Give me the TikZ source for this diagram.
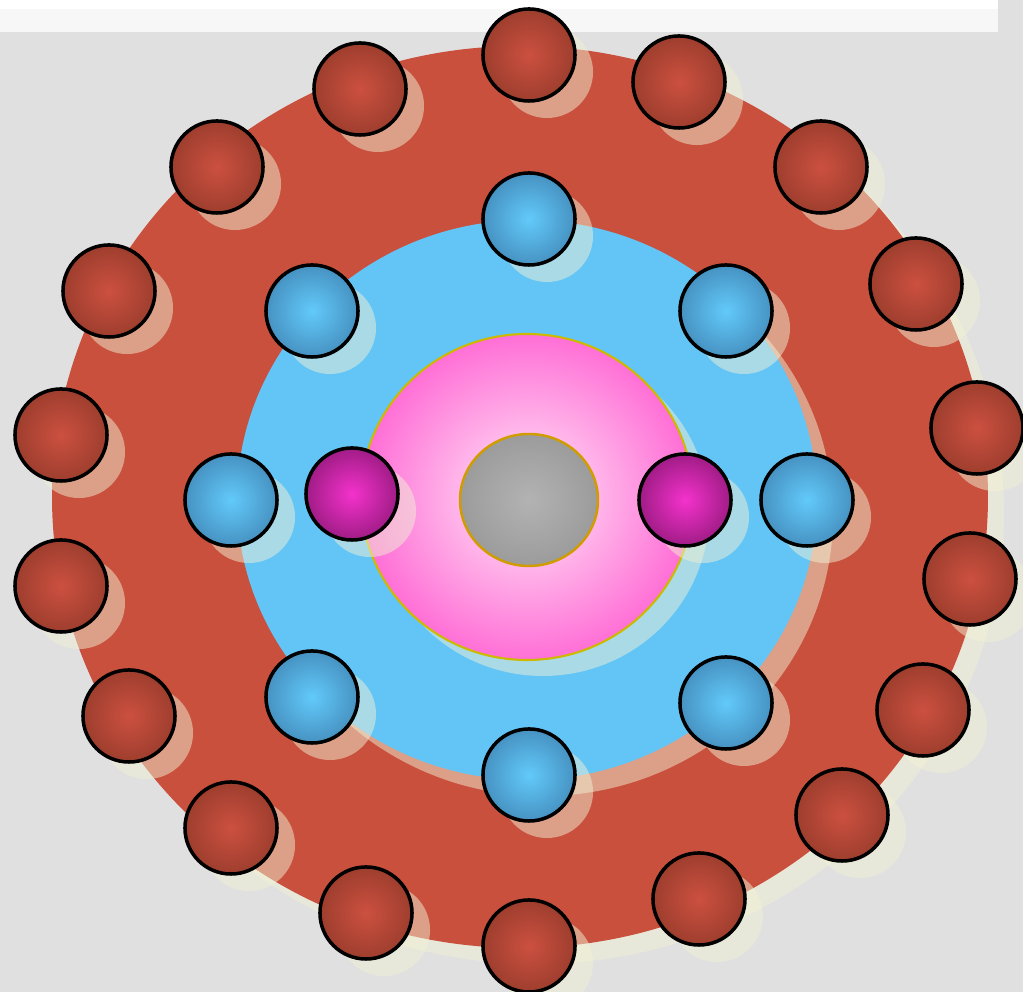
\documentclass[tikz,border=0pt]{standalone}
\usepackage{tikz}
\usetikzlibrary{positioning}
\definecolor{bggray}{HTML}{E0E0E0}
\definecolor{stripgray}{HTML}{F7F7F7}
\definecolor{shadowcol}{HTML}{F0F0D5}
\definecolor{redshell}{HTML}{C9503C}
\definecolor{blueshell}{HTML}{62C5F6}
\definecolor{pinkedge}{HTML}{FF6FD6}
\definecolor{pinkcore}{HTML}{FFE8F8}
\definecolor{goldline}{HTML}{CDBA00}
\definecolor{nucline}{HTML}{D09C00}
\definecolor{redin}{HTML}{CC5040}
\definecolor{redout}{HTML}{9E3E2E}
\definecolor{bluein}{HTML}{62CAFA}
\definecolor{blueout}{HTML}{4692C2}
\definecolor{pinkin}{HTML}{F432CC}
\definecolor{pinkout}{HTML}{A01C86}
\tikzset{
    shadow/.style={fill=shadowcol,fill opacity=0.5},
    ball/.style={circle,draw=black,line width=1pt,minimum size=0.92cm,inner sep=0pt,shade,
        preaction={draw=none,fill=shadowcol,fill opacity=0.5,transform canvas={xshift=0.18cm,yshift=-0.17cm}}},
    redball/.style={ball,inner color=redin,outer color=redout},
    blueball/.style={ball,inner color=bluein,outer color=blueout},
    pinkball/.style={ball,inner color=pinkin,outer color=pinkout}
}
\begin{document}
\begin{tikzpicture}[x=0.01cm,y=-0.01cm]
    \useasboundingbox (0,0) rectangle (1023,992);
    % backdrop
    \fill[bggray] (0,0) rectangle (1023,992);
    \fill[white] (0,0) rectangle (998,32);
    \fill[stripgray] (0,9) rectangle (998,32);
    % shells
    \fill[shadow] (536,513) ellipse[x radius=468,y radius=451];
    \fill[redshell] (520,497) ellipse[x radius=468,y radius=451];
    \fill[shadow] (543,516) ellipse[x radius=290,y radius=280];
    \fill[blueshell] (527,500) ellipse[x radius=290,y radius=280];
    \fill[shadow] (543,513) ellipse[x radius=166,y radius=163];
    \shadedraw[draw=goldline,line width=0.6pt,inner color=pinkcore,outer color=pinkedge] (527,497) ellipse[x radius=166,y radius=163];
    \shadedraw[draw=nucline,line width=0.7pt,inner color=gray!60,outer color=gray!78] (529,500) ellipse[x radius=69,y radius=66];
    % outer electrons
    \node[redball] (r1) at (529,55) {};
    \node[redball] (r2) at (679,82) {};
    \node[redball] (r3) at (821,167) {};
    \node[redball] (r4) at (916,284) {};
    \node[redball] (r5) at (977,428) {};
    \node[redball] (r6) at (970,579) {};
    \node[redball] (r7) at (923,710) {};
    \node[redball] (r8) at (842,815) {};
    \node[redball] (r9) at (699,899) {};
    \node[redball] (r10) at (529,946) {};
    \node[redball] (r11) at (366,913) {};
    \node[redball] (r12) at (231,828) {};
    \node[redball] (r13) at (129,716) {};
    \node[redball] (r14) at (61,586) {};
    \node[redball] (r15) at (61,435) {};
    \node[redball] (r16) at (109,291) {};
    \node[redball] (r17) at (217,167) {};
    \node[redball] (r18) at (360,89) {};
    % middle electrons
    \node[blueball] (b1) at (529,219) {};
    \node[blueball] (b2) at (726,311) {};
    \node[blueball] (b3) at (807,500) {};
    \node[blueball] (b4) at (726,703) {};
    \node[blueball] (b5) at (529,775) {};
    \node[blueball] (b6) at (312,697) {};
    \node[blueball] (b7) at (231,500) {};
    \node[blueball] (b8) at (312,311) {};
    % inner electrons
    \node[pinkball] (m1) at (352,494) {};
    \node[pinkball] (m2) at (685,500) {};
\end{tikzpicture}
\end{document}
